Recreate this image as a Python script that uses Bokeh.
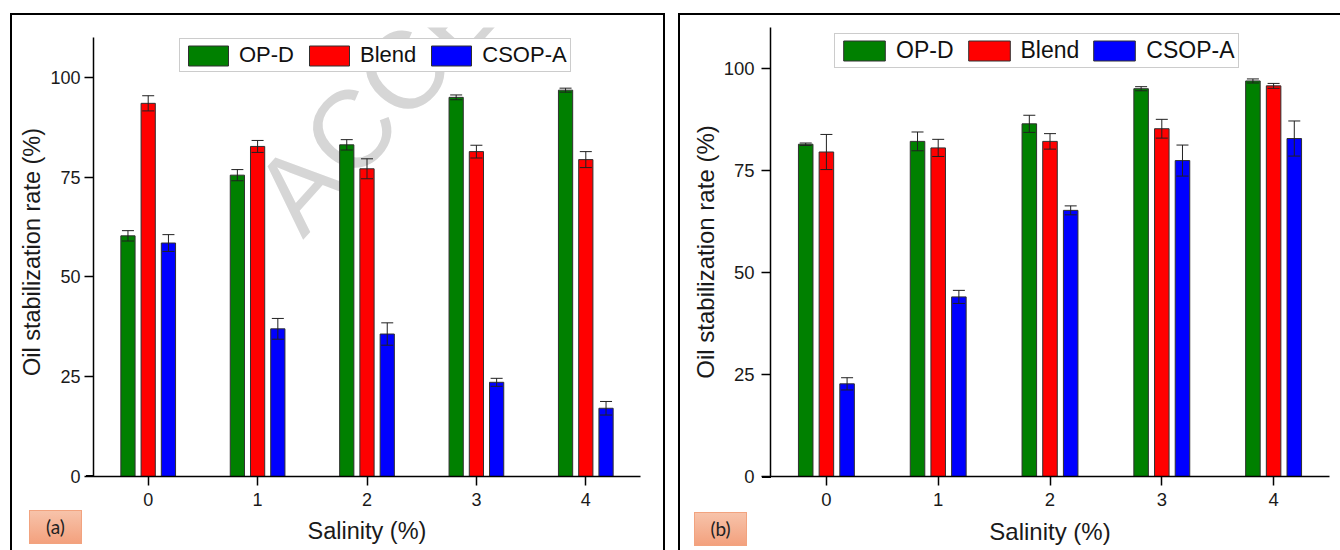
from bokeh.plotting import figure
from bokeh.layouts import row
from bokeh.models import (ColumnDataSource, Range1d, FixedTicker, Whisker, TeeHead,
                          Label, Legend, Div)
from bokeh.embed import file_html
from bokeh.resources import INLINE

# ---------------- data ----------------
salinity = [0, 1, 2, 3, 4]
series_names = ["OP-D", "Blend", "CSOP-A"]
series_colors = ["#008000", "#FF0000", "#0000FF"]

a_opd = [60.3, 75.5, 83.1, 95.0, 96.8]
a_opd_err = [1.3, 1.4, 1.3, 0.6, 0.5]
a_blend = [93.5, 82.7, 77.1, 81.4, 79.4]
a_blend_err = [1.9, 1.5, 2.5, 1.6, 2.0]
a_csop = [58.5, 37.0, 35.7, 23.6, 17.1]
a_csop_err = [2.1, 2.6, 2.8, 1.0, 1.7]

b_opd = [81.4, 82.1, 86.4, 95.0, 96.9]
b_opd_err = [0.3, 2.3, 2.1, 0.5, 0.5]
b_blend = [79.5, 80.5, 82.1, 85.2, 95.7]
b_blend_err = [4.3, 2.1, 1.9, 2.3, 0.6]
b_csop = [22.7, 44.0, 65.2, 77.4, 82.8]
b_csop_err = [1.5, 1.6, 1.1, 3.8, 4.3]

y_ticks = [0, 25, 50, 75, 100]
y_axis_max = 110
x_label = "Salinity (%)"
y_label = "Oil stabilization rate (%)"

FONT = "Liberation Sans"
offsets = [-0.185, 0.0, 0.185]
bar_w = 0.13


def make_panel(vals, errs, width, height, mb, margin, y_end, fs, legend_loc,
               glyph_w, spacing, watermark=None):
    p = figure(width=width, height=height, output_backend="svg", toolbar_location=None,
               x_range=Range1d(-0.5, 4.5), y_range=Range1d(0, y_end),
               min_border_left=mb[0], min_border_right=mb[1],
               min_border_top=mb[2], min_border_bottom=mb[3],
               margin=margin, styles={"outline": "2px solid black"})
    p.grid.visible = False
    p.outline_line_color = None
    p.background_fill_color = "white"
    p.border_fill_color = "white"

    if watermark is not None:
        wm = Label(x=watermark[0], y=watermark[1], text="ACCE",
                   angle=48, angle_units="deg", text_font=FONT, text_font_size="110px",
                   text_color="#d6d6d6", text_baseline="alphabetic", text_align="left",
                   level="underlay")
        p.add_layout(wm)

    items = []
    for name, color, off, v, e in zip(series_names, series_colors, offsets, vals, errs):
        xs = [s + off for s in salinity]
        src = ColumnDataSource(dict(x=xs, top=v,
                                    upper=[a + b for a, b in zip(v, e)],
                                    lower=[a - b for a, b in zip(v, e)]))
        r = p.vbar(x="x", top="top", width=bar_w, source=src, fill_color=color,
                   line_color="#303030", line_width=1)
        items.append((name, [r]))
        w = Whisker(source=src, base="x", upper="upper", lower="lower",
                    line_color="#202020", line_width=1,
                    upper_head=TeeHead(size=12, line_color="#202020", line_width=1),
                    lower_head=TeeHead(size=12, line_color="#202020", line_width=1),
                    level="overlay")
        p.add_layout(w)

    leg = Legend(items=items, orientation="horizontal", location=legend_loc)
    leg.label_text_font = FONT
    leg.label_text_font_size = f"{fs[2]}px"
    leg.label_text_color = "#111111"
    leg.glyph_width = glyph_w
    leg.glyph_height = 25
    leg.label_height = 25
    leg.label_standoff = 6
    leg.spacing = spacing
    leg.padding = 3
    leg.margin = 0
    leg.border_line_color = "#9a9a9a"
    leg.border_line_width = 1
    leg.background_fill_alpha = 1
    p.add_layout(leg, "center")

    for ax in (p.xaxis[0], p.yaxis[0]):
        ax.axis_line_width = 1.5
        ax.axis_line_color = "black"
        ax.major_tick_line_color = "black"
        ax.major_tick_line_width = 1.5
        ax.major_tick_out = 9
        ax.major_tick_in = 0
        ax.minor_tick_line_color = None
        ax.major_label_text_font = FONT
        ax.major_label_text_font_size = f"{fs[0]}px"
        ax.major_label_text_color = "#1a1a1a"
        ax.axis_label_text_font = FONT
        ax.axis_label_text_font_size = f"{fs[1]}px"
        ax.axis_label_text_font_style = "normal"
        ax.axis_label_text_color = "#1a1a1a"
    p.xaxis.ticker = FixedTicker(ticks=salinity)
    p.yaxis.ticker = FixedTicker(ticks=y_ticks)
    p.yaxis.bounds = (0, y_axis_max)
    p.xaxis.axis_label = x_label
    p.yaxis.axis_label = y_label
    p.xaxis.major_label_standoff = 7
    p.xaxis.axis_label_standoff = 9
    p.yaxis.major_label_standoff = fs[3]
    p.yaxis.axis_label_standoff = 2
    return p


def tag_div(text, left, top):
    inner = ('<div style="width:51px;height:32px;line-height:32px;text-align:center;'
             'font-family:Lato;font-size:19px;color:#222222;margin:0;padding:0;">'
             f'{text}</div>')
    return Div(text=inner, width=53, height=34, margin=0,
               styles={"position": "absolute", "left": f"{left}px", "top": f"{top}px",
                       "background": "linear-gradient(#F7C3AA, #F3A17E)",
                       "border": "1px solid #F2A37F", "box-sizing": "border-box",
                       "z-index": "10"})


def stub_div(left, top, w):
    # short overhang of the x-axis line to the left of the y axis (Origin style)
    return Div(text="", width=w, height=2, margin=0,
               styles={"position": "absolute", "left": f"{left}px", "top": f"{top}px",
                       "background": "black", "z-index": "10"})


# panel (a)
pa = make_panel([a_opd, a_blend, a_csop], [a_opd_err, a_blend_err, a_csop_err],
                width=651, height=535, mb=(81, 23, 12, 74), margin=(15, 0, 0, 12),
                y_end=112.5, fs=(18, 23.5, 22, 4), legend_loc=(86, 404), glyph_w=50,
                spacing=10, watermark=(1.154, 65.7))

# panel (b)
pb = make_panel([b_opd, b_blend, b_csop], [b_opd_err, b_blend_err, b_csop_err],
                width=660, height=535, mb=(90, 11, 12, 73), margin=(15, 0, 0, 17),
                y_end=110, fs=(18.5, 24, 23, 7), legend_loc=(64, 408), glyph_w=52,
                spacing=9)

tag_a = tag_div("(a)", 29, 510)
tag_b = tag_div("(b)", 694, 512)
stub_a = stub_div(86, 475, 8)
stub_b = stub_div(762, 476, 9)

layout = row(pa, pb, tag_a, tag_b, stub_a, stub_b)
open("out.html", "w").write(file_html(layout, INLINE))
